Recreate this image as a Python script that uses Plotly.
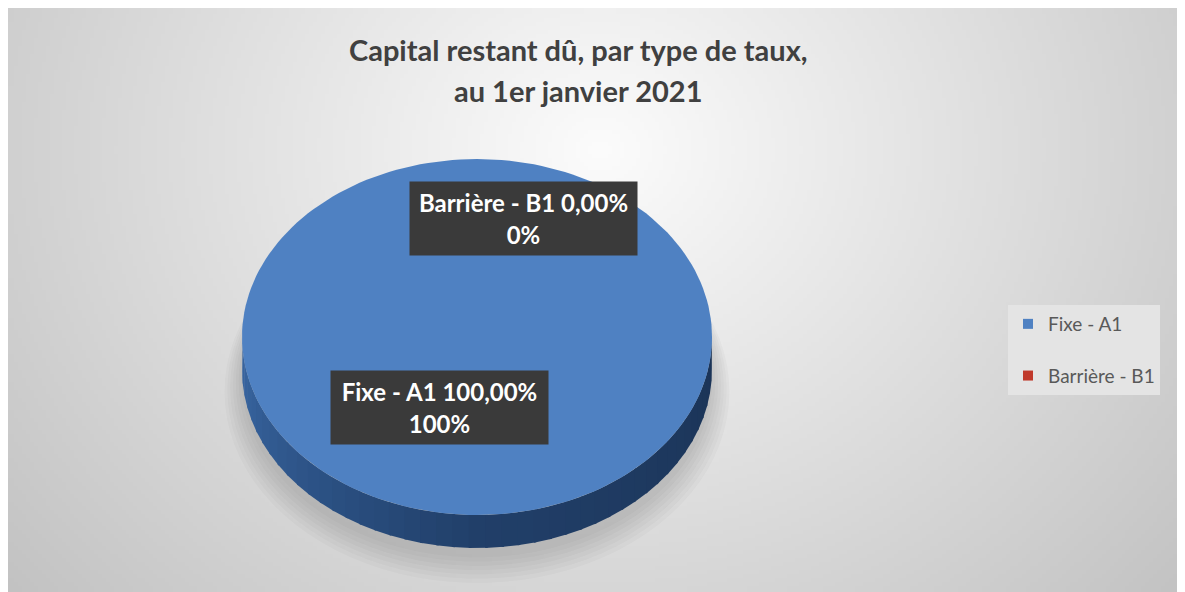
import math, zlib, struct, base64
import plotly.graph_objects as go

# ---- data ----
categories = ["Fixe - A1", "Barrière - B1"]
values = [100.0, 0.0]
percent_labels = ["100,00%", "0,00%"]
rounded_labels = ["100%", "0%"]
colors = ["#4f81c2", "#c0392b"]
title_lines = ["Capital restant dû, par type de taux,", "au 1er janvier 2021"]

# page has an 8px body margin; figure is sized to fit the 1185x592 window
OFF = 8
W, H = 1185 - OFF, 592 - OFF

def fx(px):
    return (px - OFF) / W

def fy(py):
    return 1 - (py - OFF) / H

# ---- background gradient image (pure python PNG) ----
def png_gray(w, h, f):
    rows = []
    for j in range(h):
        rows.append(b"\x00" + bytes(f(i, j) for i in range(w)))
    raw = b"".join(rows)
    def chunk(t, d):
        c = struct.pack(">I", len(d)) + t + d
        return c + struct.pack(">I", zlib.crc32(t + d) & 0xffffffff)
    return (b"\x89PNG\r\n\x1a\n" + chunk(b"IHDR", struct.pack(">IIBBBBB", w, h, 8, 0, 0, 0, 0))
            + chunk(b"IDAT", zlib.compress(raw, 9)) + chunk(b"IEND", b""))

bx0, by0, bx1, by1 = 8, 8, 1183, 592
gw, gh = 295, 146
def grad(i, j):
    px = bx0 + (i + 0.5) / gw * (bx1 - bx0)
    py = by0 + (j + 0.5) / gh * (by1 - by0)
    d = math.hypot((px - 600) * 1.0, (py - 150) * 1.15)
    v = 252 - 0.074 * d
    return max(188, min(252, int(v)))
bg_src = "data:image/png;base64," + base64.b64encode(png_gray(gw, gh, grad)).decode()

# ---- pie geometry (ellipse mapped to unit circle through axis scaling) ----
cx_px, cy_px, rx_px, ry_px, depth_px = 477, 337, 235, 178, 33
depth = depth_px / ry_px

fig = go.Figure()

# soft shadow (mostly below)
for k in range(7):
    r = 0.99 + 0.012 * (k + 1)
    ts = [math.radians(a) for a in range(0, 361, 4)]
    fig.add_trace(go.Scatter(
        x=[r * math.cos(t) for t in ts],
        y=[r * math.sin(t) - depth - 0.05 - 0.012 * k for t in ts],
        fill="toself", mode="lines", line=dict(width=0),
        fillcolor="rgba(70,70,70,0.03)", hoverinfo="skip", showlegend=False))

def lerp(c1, c2, f):
    a = [int(c1[i:i+2], 16) for i in (1, 3, 5)]
    b = [int(c2[i:i+2], 16) for i in (1, 3, 5)]
    return "rgb(%d,%d,%d)" % tuple(round(a[k] + (b[k] - a[k]) * f) for k in range(3))

# side wall (bottom half of ellipse), shaded bands
nb = 45
for k in range(nb):
    a0 = 180 + 180 * k / nb
    a1 = 180 + 180 * (k + 1) / nb + 0.6
    ts = [math.radians(a0 + (a1 - a0) * s / 4) for s in range(5)]
    xs = [math.cos(t) for t in ts] + [math.cos(t) for t in reversed(ts)]
    ys = [math.sin(t) for t in ts] + [math.sin(t) - depth for t in reversed(ts)]
    f = k / (nb - 1)
    col = lerp("#3866a2", "#213f69", f / 0.5) if f < 0.5 else lerp("#213f69", "#1b3457", (f - 0.5) / 0.5)
    fig.add_trace(go.Scatter(x=xs, y=ys, fill="toself", mode="lines",
                             line=dict(width=0), fillcolor=col,
                             hoverinfo="skip", showlegend=False))

# top face slices from values
total = sum(values)
start = 90.0
for cat, v, col in zip(categories, values, colors):
    sweep = 360.0 * v / total
    if sweep > 0:
        n = max(2, int(sweep / 2))
        ts = [math.radians(start - sweep * s / n) for s in range(n + 1)]
        xs = [math.cos(t) for t in ts]
        ys = [math.sin(t) for t in ts]
        if sweep < 360:
            xs = [0] + xs + [0]
            ys = [0] + ys + [0]
        fig.add_trace(go.Scatter(x=xs, y=ys, fill="toself", mode="lines",
                                 line=dict(width=0), fillcolor=col,
                                 name=cat, hoverinfo="name", showlegend=False))
    start -= sweep

# legend entries
for cat, col in zip(categories, colors):
    fig.add_trace(go.Scatter(x=[None], y=[None], mode="markers", name=cat,
                             legendgroup=cat,
                             marker=dict(symbol="square", size=10, color=col)))

x_range = [(OFF - cx_px) / rx_px, (OFF + W - cx_px) / rx_px]
y_range = [(cy_px - (OFF + H)) / ry_px, (cy_px - OFF) / ry_px]

anns = []
for line, ty in zip(title_lines, [50, 90]):
    anns.append(dict(text="<b>%s</b>" % line, x=fx(578), y=fy(ty), xref="paper", yref="paper",
                     xanchor="center", yanchor="middle", showarrow=False,
                     font=dict(family="Lato", size=29, color="#404040")))
box_style = {"Fixe - A1": (439.5, 407, 209), "Barrière - B1": (523.5, 218.5, 219)}
for cat, p, r in zip(categories, percent_labels, rounded_labels):
    bxc, byc, bw = box_style[cat]
    anns.append(dict(text="<b>%s %s<br>%s</b>" % (cat, p, r), x=fx(bxc), y=fy(byc),
                     xref="paper", yref="paper", xanchor="center", yanchor="middle",
                     showarrow=False, bgcolor="#3a3a3a", borderpad=4, width=bw, height=65,
                     font=dict(family="Lato", size=24, color="white"), align="center"))

fig.update_layout(
    width=W, height=H, margin=dict(l=0, r=0, t=0, b=0),
    paper_bgcolor="white", plot_bgcolor="rgba(0,0,0,0)",
    xaxis=dict(range=x_range, visible=False, fixedrange=True),
    yaxis=dict(range=y_range, visible=False, fixedrange=True),
    images=[dict(source=bg_src, xref="paper", yref="paper", x=fx(bx0), y=fy(by0),
                 sizex=(bx1 - bx0) / W, sizey=(by1 - by0) / H, xanchor="left", yanchor="top",
                 sizing="stretch", layer="below")],
    annotations=anns,
    legend=dict(x=fx(1008), y=fy(305), xanchor="left", yanchor="top",
                bgcolor="#e4e4e4", font=dict(family="Lato", size=19, color="#595959"),
                tracegroupgap=24, itemwidth=30, borderwidth=0),
    showlegend=True,
)

fig.write_html("out.html")
